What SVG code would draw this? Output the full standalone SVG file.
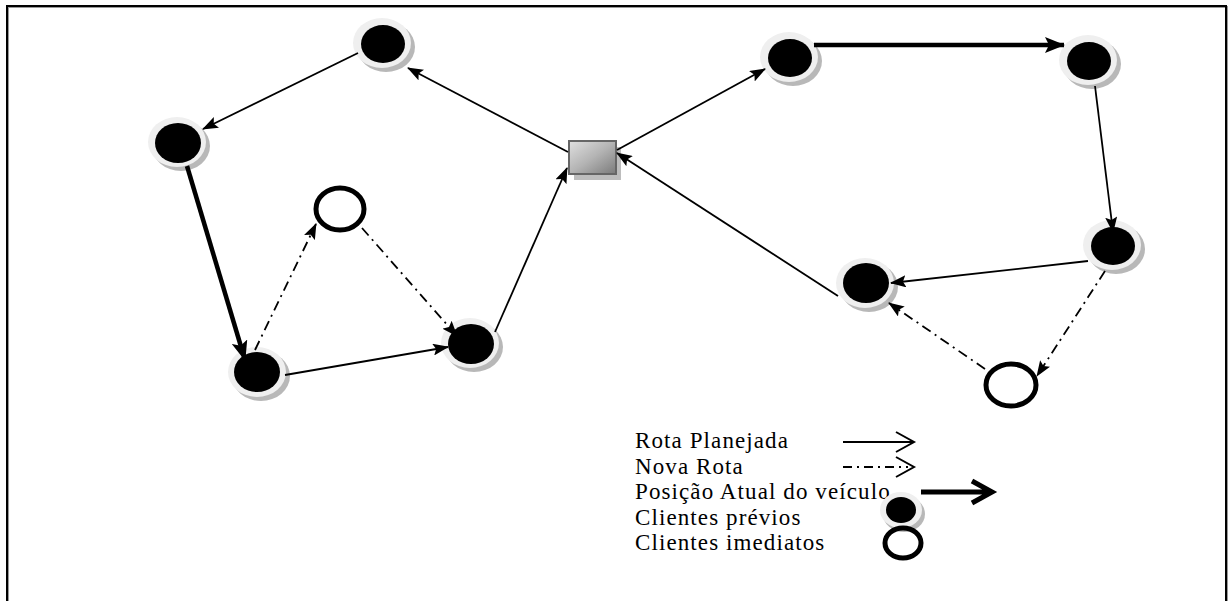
<svg xmlns="http://www.w3.org/2000/svg" width="1232" height="601" viewBox="0 0 1232 601">
  <style>
    .ring { fill: #efefef; }
    .shade { fill: #b8b8b8; }
    .core { fill: #000; }
    .open { fill: #fff; stroke: #000; stroke-width: 5; }
    .route { fill: none; stroke: #000; stroke-width: 1.8; marker-end: url(#tip); }
    .current { fill: none; stroke: #000; stroke-width: 4.5; marker-end: url(#tipBig); }
    .newroute { fill: none; stroke: #000; stroke-width: 1.8; stroke-dasharray: 10 5 2 5; marker-end: url(#tip); }
    .label { font-family: "Liberation Serif", "Times New Roman", serif; font-size: 23px; letter-spacing: 1.1px; fill: #000; }
  </style>
  <defs>
    <marker id="tip" viewBox="0 0 16 12" refX="15" refY="6" markerWidth="16" markerHeight="12" markerUnits="userSpaceOnUse" orient="auto">
      <path d="M0,0 L16,6 L0,12 L3,6 Z" fill="#000"/>
    </marker>
    <marker id="tipBig" viewBox="0 0 20 16" refX="19" refY="8" markerWidth="20" markerHeight="16" markerUnits="userSpaceOnUse" orient="auto">
      <path d="M0,0 L20,8 L0,16 L4,8 Z" fill="#000"/>
    </marker>
    <linearGradient id="depotFill" x1="0" y1="0" x2="1" y2="1">
      <stop offset="0" stop-color="#e0e0e0"/>
      <stop offset="0.5" stop-color="#b4b4b4"/>
      <stop offset="1" stop-color="#7a7a7a"/>
    </linearGradient>
  </defs>

  <!-- frame -->
  <g id="frame" fill="none">
    <path d="M8,608 V7 H1227 V608" stroke="#999" stroke-width="2"/>
    <path d="M7,608 V6 H1226 V608" stroke="#000" stroke-width="2"/>
  </g>

  <!-- depot -->
  <g id="depot">
    <rect x="574" y="147" width="47" height="33" fill="#bdbdbd"/>
    <rect x="569" y="141" width="47" height="33" fill="url(#depotFill)" stroke="#666" stroke-width="2"/>
  </g>

  <!-- previous customers -->
  <g id="node-a">
    <ellipse class="shade" cx="386" cy="47" rx="29" ry="25"/>
    <ellipse class="ring" cx="382" cy="43" rx="29" ry="25"/>
    <ellipse class="core" cx="383" cy="44" rx="22" ry="19"/>
  </g>
  <g id="node-b">
    <ellipse class="shade" cx="181" cy="146" rx="29" ry="25"/>
    <ellipse class="ring" cx="177" cy="142" rx="29" ry="25"/>
    <ellipse class="core" cx="178" cy="143" rx="23" ry="20"/>
  </g>
  <g id="node-c">
    <ellipse class="shade" cx="261" cy="376" rx="29" ry="25"/>
    <ellipse class="ring" cx="257" cy="372" rx="29" ry="25"/>
    <ellipse class="core" cx="257" cy="372" rx="23" ry="20"/>
  </g>
  <g id="node-d">
    <ellipse class="shade" cx="474" cy="347" rx="29" ry="25"/>
    <ellipse class="ring" cx="470" cy="343" rx="29" ry="25"/>
    <ellipse class="core" cx="471" cy="344" rx="23" ry="20"/>
  </g>
  <g id="node-e">
    <ellipse class="shade" cx="793" cy="61" rx="29" ry="25"/>
    <ellipse class="ring" cx="789" cy="57" rx="29" ry="25"/>
    <ellipse class="core" cx="790" cy="58" rx="22" ry="19"/>
  </g>
  <g id="node-f">
    <ellipse class="shade" cx="1092" cy="64" rx="29" ry="25"/>
    <ellipse class="ring" cx="1088" cy="60" rx="29" ry="25"/>
    <ellipse class="core" cx="1089" cy="61" rx="22" ry="19"/>
  </g>
  <g id="node-g">
    <ellipse class="shade" cx="1116" cy="249" rx="29" ry="25"/>
    <ellipse class="ring" cx="1112" cy="245" rx="29" ry="25"/>
    <ellipse class="core" cx="1113" cy="246" rx="22" ry="19"/>
  </g>
  <g id="node-h">
    <ellipse class="shade" cx="869" cy="287" rx="29" ry="25"/>
    <ellipse class="ring" cx="865" cy="283" rx="29" ry="25"/>
    <ellipse class="core" cx="866" cy="283" rx="23" ry="20"/>
  </g>

  <!-- immediate customers -->
  <g id="node-o1">
    <ellipse class="open" cx="340" cy="209" rx="24" ry="21"/>
  </g>
  <g id="node-o2">
    <ellipse class="open" cx="1011" cy="385" rx="25" ry="21"/>
  </g>

  <!-- connectors (drawn over the node rims) -->
  <g id="connectors">
    <line class="route" x1="568" y1="152" x2="408" y2="68"/>
    <line class="route" x1="358" y1="53" x2="203" y2="129"/>
    <line class="current" x1="187" y1="166" x2="245" y2="360"/>
    <line class="route" x1="285" y1="375" x2="448" y2="347"/>
    <line class="route" x1="495" y1="332" x2="567" y2="168"/>
    <line class="route" x1="617" y1="150" x2="765" y2="69"/>
    <line class="current" x1="814" y1="45" x2="1064" y2="45"/>
    <line class="route" x1="1095" y1="86" x2="1113" y2="232"/>
    <line class="route" x1="1088" y1="261" x2="891" y2="283"/>
    <line class="route" x1="838" y1="296" x2="617" y2="153"/>
    <line class="newroute" x1="255" y1="350" x2="316" y2="224"/>
    <line class="newroute" x1="362" y1="228" x2="457" y2="336"/>
    <line class="newroute" x1="1105" y1="271" x2="1037" y2="376"/>
    <line class="newroute" x1="985" y1="369" x2="889" y2="303"/>
  </g>

  <!-- legend -->
  <g id="legend">
    <text class="label" x="635" y="448">Rota Planejada</text>
    <text class="label" x="635" y="473.6">Nova Rota</text>
    <text class="label" x="635" y="499.2">Posição Atual do veículo</text>
    <text class="label" x="635" y="524.8">Clientes prévios</text>
    <text class="label" x="635" y="550.4">Clientes imediatos</text>
    <path d="M843,442 H913 M896,432 L914,442 L896,452" fill="none" stroke="#000" stroke-width="2"/>
    <path d="M843,467 H908" fill="none" stroke="#000" stroke-width="2" stroke-dasharray="9 5 2 5"/>
    <path d="M896,457 L914,467 L896,477" fill="none" stroke="#000" stroke-width="2"/>
    <path d="M921,492 H990 M972,481 L992,492 L972,503" fill="none" stroke="#000" stroke-width="5"/>
    <ellipse class="shade" cx="904" cy="514" rx="21" ry="18"/>
    <ellipse class="ring" cx="901" cy="510" rx="21" ry="18"/>
    <ellipse class="core" cx="901" cy="510" rx="15" ry="13"/>
    <ellipse cx="903" cy="543" rx="18" ry="15" fill="none" stroke="#000" stroke-width="5"/>
  </g>
</svg>
